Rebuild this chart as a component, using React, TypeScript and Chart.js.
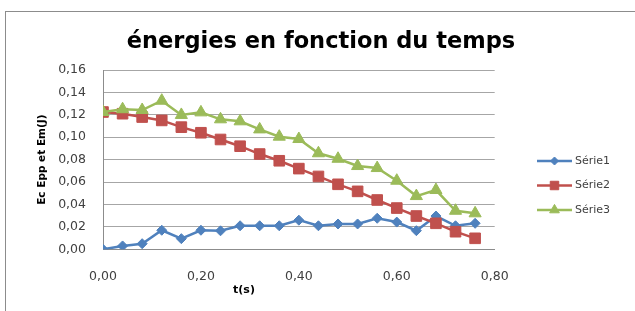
import React, { useEffect, useRef } from "react";
import { Chart, registerables } from "chart.js";

Chart.register(...registerables);

const chartTitle = "énergies en fonction du temps";
const xTitle = "t(s)";
const yTitle = "Ec Epp et Em(J)";
const seriesNames = ["Série1", "Série2", "Série3"];
const seriesColors = ["#4F81BD", "#C0504D", "#9BBB59"];
const seriesMarkers = ["rectRot", "rect", "triangle"];
const markerRadii = [5, 7.5, 7];

const times = [0, 0.04, 0.08, 0.12, 0.16, 0.2, 0.24, 0.28, 0.32, 0.36, 0.4, 0.44, 0.48, 0.52, 0.56, 0.6, 0.64, 0.68, 0.72, 0.76];
const serie1 = [0.0, 0.003, 0.005, 0.017, 0.0095, 0.017, 0.0165, 0.021, 0.021, 0.021, 0.026, 0.021, 0.0226, 0.0226, 0.0277, 0.0243, 0.0166, 0.0297, 0.021, 0.0232];
const serie2 = [0.1225, 0.121, 0.118, 0.115, 0.109, 0.104, 0.098, 0.092, 0.085, 0.079, 0.072, 0.065, 0.058, 0.0517, 0.044, 0.0368, 0.0297, 0.0232, 0.0157, 0.0098];
const serie3 = [0.1225, 0.125, 0.1243, 0.1326, 0.1199, 0.1222, 0.116, 0.1142, 0.107, 0.1005, 0.0984, 0.0857, 0.0808, 0.0743, 0.0725, 0.0612, 0.0475, 0.0529, 0.0344, 0.0321];
const allSeries = [serie1, serie2, serie3];

const xMin = 0, xMax = 0.8, xStep = 0.2;
const yMin = 0, yMax = 0.16, yStep = 0.02;

const FONT = "'DejaVu Sans', sans-serif";
const fmt = (v: number) => Number(v).toFixed(2).replace(".", ",");

function drawMarker(ctx: CanvasRenderingContext2D, style: string, r: number, x: number, y: number) {
  ctx.beginPath();
  if (style === "rectRot") {
    ctx.moveTo(x - r, y);
    ctx.lineTo(x, y - r);
    ctx.lineTo(x + r, y);
    ctx.lineTo(x, y + r);
  } else if (style === "rect") {
    const s = Math.SQRT1_2 * r;
    ctx.rect(x - s, y - s, 2 * s, 2 * s);
  } else {
    const w = r * Math.sin((2 * Math.PI) / 3);
    ctx.moveTo(x, y - r);
    ctx.lineTo(x + w, y + r / 2);
    ctx.lineTo(x - w, y + r / 2);
  }
  ctx.closePath();
  ctx.fill();
  ctx.stroke();
}

export default function App() {
  const ref = useRef<HTMLCanvasElement | null>(null);
  useEffect(() => {
    if (!ref.current) return;
    const decor = {
      id: "decor",
      afterDraw(chart: any) {
        const ctx = chart.ctx;
        const a = chart.chartArea;
        ctx.save();
        ctx.fillStyle = "#000000";
        ctx.font = `bold 22.5px ${FONT}`;
        ctx.textAlign = "center";
        ctx.textBaseline = "alphabetic";
        ctx.fillText(chartTitle, 321, 48);
        ctx.font = `bold 11px ${FONT}`;
        ctx.textBaseline = "middle";
        ctx.fillText(xTitle, a.left + (a.right - a.left) * 0.36, 290);
        ctx.save();
        ctx.translate(42, (a.top + a.bottom) / 2);
        ctx.rotate(-Math.PI / 2);
        ctx.font = `bold 10.5px ${FONT}`;
        ctx.fillText(yTitle, 0, 0);
        ctx.restore();
        const lx0 = 537, lx1 = 572, ly0 = 161, lgap = 24.5;
        seriesNames.forEach((name, i) => {
          const y = ly0 + i * lgap;
          ctx.strokeStyle = seriesColors[i];
          ctx.lineWidth = 2.5;
          ctx.beginPath();
          ctx.moveTo(lx0, y);
          ctx.lineTo(lx1, y);
          ctx.stroke();
          ctx.fillStyle = seriesColors[i];
          ctx.lineWidth = 1;
          drawMarker(ctx, seriesMarkers[i], markerRadii[i] * 0.8, (lx0 + lx1) / 2, y);
          ctx.fillStyle = "#404040";
          ctx.font = `11px ${FONT}`;
          ctx.textAlign = "left";
          ctx.textBaseline = "middle";
          ctx.fillText(name, 575, y);
        });
        ctx.restore();
      },
    };

    const chart = new Chart(ref.current, {
      type: "line",
      data: {
        datasets: allSeries.map((s, i) => ({
          label: seriesNames[i],
          data: s.map((v, j) => ({ x: times[j], y: v })),
          borderColor: seriesColors[i],
          backgroundColor: seriesColors[i],
          pointBackgroundColor: seriesColors[i],
          pointBorderColor: seriesColors[i],
          pointStyle: seriesMarkers[i] as any,
          pointRadius: markerRadii[i],
          pointBorderWidth: 1,
          borderWidth: 2.5,
          tension: 0,
          fill: false,
          order: 3 - i,
        })),
      },
      options: {
        responsive: false,
        animation: false,
        events: [],
        layout: { padding: { left: 0, right: 140.3, top: 70, bottom: 0 } },
        plugins: {
          legend: { display: false },
          title: { display: false },
          tooltip: { enabled: false },
        },
        scales: {
          x: {
            type: "linear",
            min: xMin,
            max: xMax,
            grid: { display: false },
            border: { display: true, color: "#8c8c8c", width: 1 },
            ticks: {
              stepSize: xStep,
              padding: 12,
              color: "#404040",
              font: { family: FONT, size: 12.5 },
              callback: (v: any) => fmt(v),
              maxRotation: 0,
            },
            afterFit: (scale: any) => {
              scale.height = 61.7;
            },
          },
          y: {
            type: "linear",
            min: yMin,
            max: yMax,
            grid: { color: "#a6a6a6", lineWidth: 1, drawTicks: false },
            border: { display: true, color: "#8c8c8c", width: 1 },
            ticks: {
              stepSize: yStep,
              padding: 17,
              color: "#404040",
              font: { family: FONT, size: 12.5 },
              callback: (v: any) => fmt(v),
            },
            afterFit: (scale: any) => {
              scale.width = 103;
            },
          },
        },
      },
      plugins: [decor],
    });
    return () => chart.destroy();
  }, []);

  return (
    <div style={{ position: "fixed", left: 0, top: 0, width: 635, height: 311, background: "#ffffff", overflow: "hidden" }}>
      <div style={{ position: "absolute", left: 5, top: 11, width: 700, height: 400, border: "1px solid #8c8c8c", boxSizing: "border-box" }} />
      <canvas ref={ref} width={635} height={311} style={{ position: "absolute", left: 0, top: 0, width: 635, height: 311 }} />
    </div>
  );
}
